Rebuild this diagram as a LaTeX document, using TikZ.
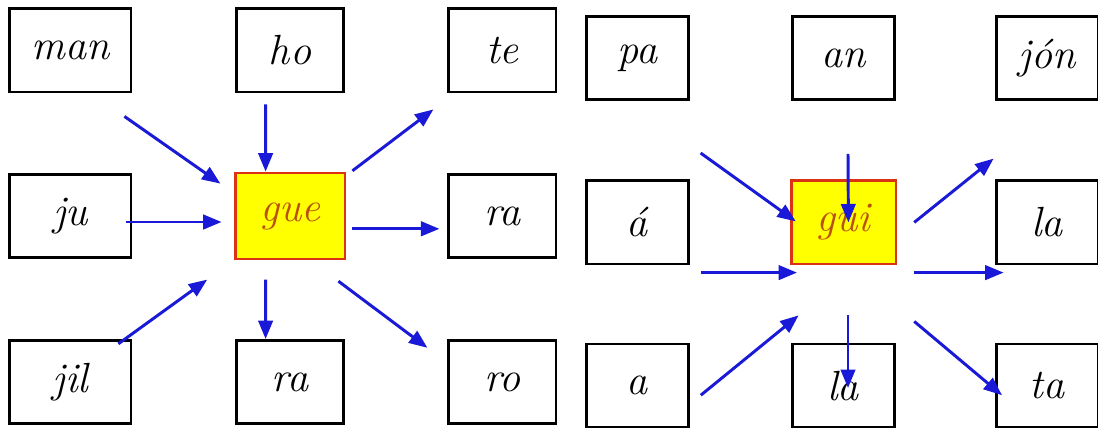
\documentclass[tikz,border=0pt]{standalone}
\usepackage{xcolor}
\usepackage{tikz}
\usetikzlibrary{arrows.meta}

\definecolor{arrowblue}{RGB}{25,25,215}
\definecolor{boxyellow}{RGB}{255,255,0}
\definecolor{boxred}{RGB}{220,50,20}
\definecolor{syltext}{RGB}{185,80,15}

\begin{document}
\begin{tikzpicture}[
    box/.style={rectangle, draw, line width=2pt, minimum width=2.68cm, minimum height=2.08cm, align=center, font=\fontsize{30}{34}\selectfont\itshape},
    wide/.style={minimum width=3.03cm},
    narrow/.style={minimum width=2.55cm},
    key/.style={box, fill=boxyellow, draw=boxred, text=syltext},
    arrow/.style={-{Triangle[length=0.46cm,width=0.36cm]}, line width=2.1pt, arrowblue}
]
    \useasboundingbox[fill=white] (0,0) rectangle (27.45,-10.675);

    % gue
    \node[box, wide] (man) at (1.76,-1.26) {man};
    \node[box] (ho) at (7.25,-1.26) {ho};
    \node[box] (te) at (12.56,-1.26) {te};
    \node[box, wide] (ju) at (1.76,-5.4) {ju};
    \node[key, minimum width=2.73cm, minimum height=2.15cm] (gue) at (7.26,-5.4) {gue};
    \node[box] (ra) at (12.56,-5.4) {ra};
    \node[box, wide] (jil) at (1.76,-9.55) {jil};
    \node[box] (rab) at (7.25,-9.55) {ra};
    \node[box] (ro) at (12.56,-9.55) {ro};

    \draw[arrow] ([shift={(-0.2,-0.575)}]man.south east) -- ([shift={(-0.35,-0.3)}]gue.north west);
    \draw[arrow] ([shift={(-0.61,-0.275)}]ho.south) -- ([shift={(-0.62,0)}]gue.north);
    \draw[arrow] ([shift={(0.15,0.02)}]gue.north east) -- ([shift={(-0.35,-0.4)}]te.south west);
    \draw[arrow] ([shift={(-0.16,-0.15)}]ju.east) -- ([shift={(-0.32,-0.15)}]gue.west);
    \draw[arrow] ([shift={(0.15,-0.32)}]gue.east) -- ([shift={(-0.2,-0.32)}]ra.west);
    \draw[arrow] ([shift={(-0.35,-0.12)}]jil.north east) -- ([shift={(-0.68,-0.48)}]gue.south west);
    \draw[arrow] ([shift={(-0.62,-0.48)}]gue.south) -- ([shift={(-0.61,0)}]rab.north);
    \draw[arrow] ([shift={(-0.2,-0.52)}]gue.south east) -- ([shift={(-0.5,-0.22)}]ro.north west);

    % gui
    \node[box, narrow] (pa) at (15.93,-1.45) {pa};
    \node[box, narrow] (an) at (21.08,-1.45) {an};
    \node[box, narrow] (jon) at (26.18,-1.45) {jón};
    \node[box, narrow] (atil) at (15.93,-5.56) {á};
    \node[key, minimum width=2.62cm] (gui) at (21.09,-5.56) {gui};
    \node[box, narrow] (la) at (26.18,-5.56) {la};
    \node[box, narrow] (a) at (15.93,-9.64) {a};
    \node[box, narrow] (lab) at (21.08,-9.64) {la};
    \node[box, narrow] (ta) at (26.18,-9.64) {ta};

    \draw[arrow] ([shift={(0.275,-1.3)}]pa.south east) -- ([shift={(0.15,-1.05)}]gui.north west);
    \draw[arrow] ([shift={(0.12,-1.32)}]an.south) -- ([xshift=0.12cm]gui.center);
    \draw[arrow] ([shift={(0.42,0)}]gui.east) -- ([shift={(-0.03,0.52)}]la.north west);
    \draw[arrow] ([shift={(0.28,-0.18)}]atil.south east) -- ([shift={(0.18,-0.18)}]gui.south west);
    \draw[arrow] ([shift={(0.42,-0.18)}]gui.south east) -- ([shift={(0.22,-0.18)}]la.south west);
    \draw[arrow] ([shift={(0.28,-0.24)}]a.east) -- ([shift={(0.22,-1.25)}]gui.south west);
    \draw[arrow] ([shift={(0.11,-1.25)}]gui.south) -- ([shift={(0.12,-0.06)}]lab.center);
    \draw[arrow] ([shift={(0.42,-1.4)}]gui.south east) -- ([shift={(0.18,-0.24)}]ta.west);
\end{tikzpicture}
\end{document}
